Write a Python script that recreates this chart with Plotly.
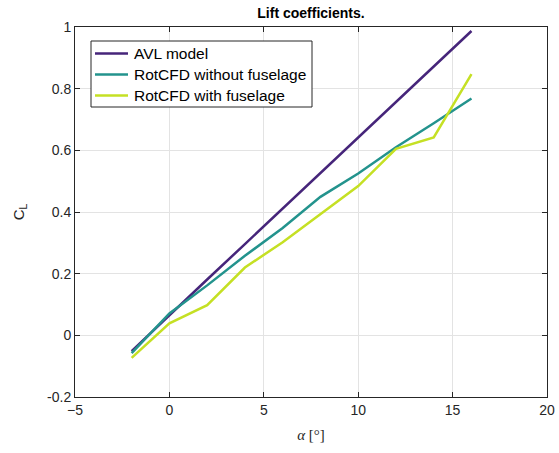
import plotly.graph_objects as go

alpha = [-2, 0, 2, 4, 6, 8, 10, 12, 14, 16]
cl_avl = [-0.051, 0.066, 0.181, 0.296, 0.411, 0.526, 0.641, 0.756, 0.871, 0.987]
cl_nofus = [-0.058, 0.071, 0.162, 0.258, 0.348, 0.449, 0.525, 0.610, 0.688, 0.768]
cl_fus = [-0.073, 0.039, 0.098, 0.220, 0.302, 0.392, 0.484, 0.605, 0.642, 0.847]

names = ["AVL model", "RotCFD without fuselage", "RotCFD with fuselage"]
colors = ["#46257a", "#23938d", "#c5e024"]

W, H = 559, 453
L, R, T, B = 75, 12, 27, 56
pw, ph = W - L - R, H - T - B


def px(x):
    return (x - L) / pw


def py(y):
    return (H - B - y) / ph


fig = go.Figure()
for ys, nm, c in zip([cl_avl, cl_nofus, cl_fus], names, colors):
    fig.add_trace(go.Scatter(x=alpha, y=ys, mode="lines", name=nm,
                             line=dict(color=c, width=2.5), showlegend=False))

# legend drawn as box + sample lines + labels
shapes = [dict(type="rect", xref="paper", yref="paper", x0=px(91), x1=px(312),
               y0=py(107), y1=py(41), line=dict(color="#262626", width=1),
               fillcolor="white", layer="above")]
annotations = []
rows = [53.5, 74.5, 95.5]
for nm, c, ry in zip(names, colors, rows):
    shapes.append(dict(type="line", xref="paper", yref="paper", x0=px(95), x1=px(128),
                       y0=py(ry), y1=py(ry), line=dict(color=c, width=2.5), layer="above"))
    annotations.append(dict(text=nm, xref="paper", yref="paper", x=px(132), y=py(ry),
                            xanchor="left", yanchor="middle", showarrow=False,
                            font=dict(family="Liberation Sans, Arial", size=15.5, color="black")))

axis_common = dict(showline=True, linecolor="#262626", linewidth=1, mirror="ticks",
                   ticks="inside", ticklen=5, tickcolor="#262626",
                   showgrid=True, gridcolor="#e3e3e3", gridwidth=1, zeroline=False,
                   automargin=False,
                   tickfont=dict(family="Liberation Sans, Arial", size=14, color="#262626"))

fig.update_layout(
    width=W, height=H,
    margin=dict(l=L, r=R, t=T, b=B, autoexpand=False),
    paper_bgcolor="white", plot_bgcolor="white",
    title=dict(text="<b>Lift coefficients.</b>", x=0.5, xanchor="center", xref="paper",
               y=1 - 13 / H, yanchor="middle",
               font=dict(family="Liberation Sans, Arial", size=14, color="black")),
    xaxis=dict(range=[-5, 20], tickvals=[-5, 0, 5, 10, 15, 20], **axis_common,
               title=dict(text="<i>α</i> [°]", standoff=12,
                          font=dict(family="Liberation Serif, DejaVu Serif", size=15, color="#262626"))),
    yaxis=dict(range=[-0.2, 1], tickvals=[-0.2, 0, 0.2, 0.4, 0.6, 0.8, 1],
               ticktext=["-0.2", "0", "0.2", "0.4", "0.6", "0.8", "1"], **axis_common,
               title=dict(text="C<sub>L</sub>", standoff=18,
                          font=dict(family="Liberation Sans, Arial", size=15, color="#262626"))),
    shapes=shapes,
    annotations=annotations,
    showlegend=False,
)

fig.write_html("out.html")
